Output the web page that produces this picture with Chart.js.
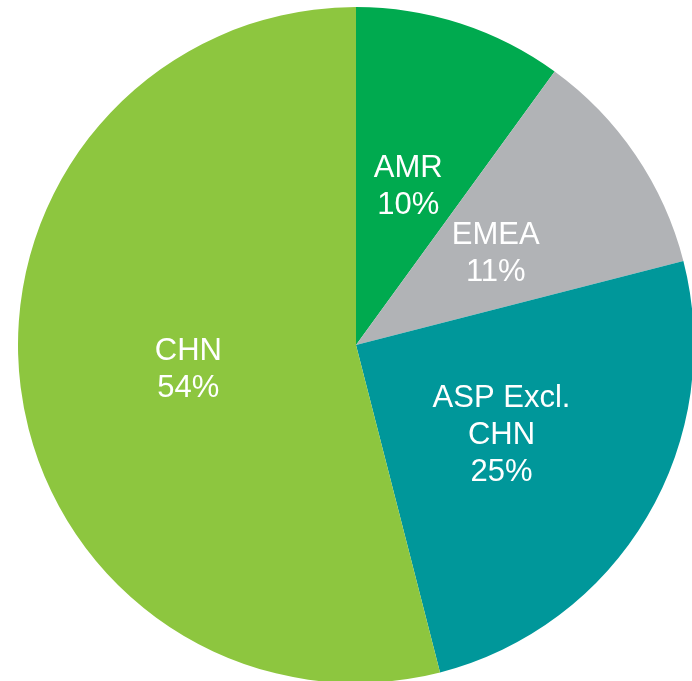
<!DOCTYPE html>
<html>
<head>
<meta charset="utf-8">
<script src="https://cdn.jsdelivr.net/npm/chart.js@4"></script>
<style>
  html, body { margin: 0; padding: 0; background: #fff; overflow: hidden; }
  body { width: 692px; height: 681px; position: relative; }
  #wrap { position: absolute; left: 18px; top: 7px; width: 676px; height: 676px; }
</style>
</head>
<body>
<div id="wrap"><canvas id="pieChart"></canvas></div>
<script>
// regions, clockwise from 12 o'clock
const regions = ['AMR', 'EMEA', 'ASP Excl. CHN', 'CHN'];
const labelLines = [['AMR', '10%'], ['EMEA', '11%'], ['ASP Excl.', 'CHN', '25%'], ['CHN', '54%']];
const shares = [10, 11, 25, 54];
const sliceColors = ['#00AA4F', '#B1B3B6', '#00979A', '#8DC63F'];
// small nudges so labels sit where the original put them
const labelNudge = [[0, 3], [0, 4], [0, 4], [0, 4]];

// white labels inside each slice, centred at half radius
const sliceLabels = {
  id: 'sliceLabels',
  afterDatasetsDraw(chart) {
    const ctx = chart.ctx;
    const meta = chart.getDatasetMeta(0);
    ctx.save();
    ctx.fillStyle = '#fff';
    ctx.font = '31px "Liberation Sans", Arial, sans-serif';
    ctx.textAlign = 'center';
    ctx.textBaseline = 'middle';
    meta.data.forEach((arc, i) => {
      const pos = arc.tooltipPosition();
      const lines = labelLines[i];
      const lh = 37;
      const x = pos.x + labelNudge[i][0];
      const y = pos.y + labelNudge[i][1];
      lines.forEach((t, j) => {
        ctx.fillText(t, x, y + (j - (lines.length - 1) / 2) * lh);
      });
    });
    ctx.restore();
  }
};

new Chart(document.getElementById('pieChart'), {
  type: 'pie',
  data: {
    labels: regions,
    datasets: [{
      data: shares,
      backgroundColor: sliceColors,
      borderWidth: 0
    }]
  },
  options: {
    responsive: true,
    maintainAspectRatio: false,
    animation: false,
    layout: { padding: 0 },
    plugins: {
      legend: { display: false },
      tooltip: { enabled: false }
    }
  },
  plugins: [sliceLabels]
});
</script>
</body>
</html>
